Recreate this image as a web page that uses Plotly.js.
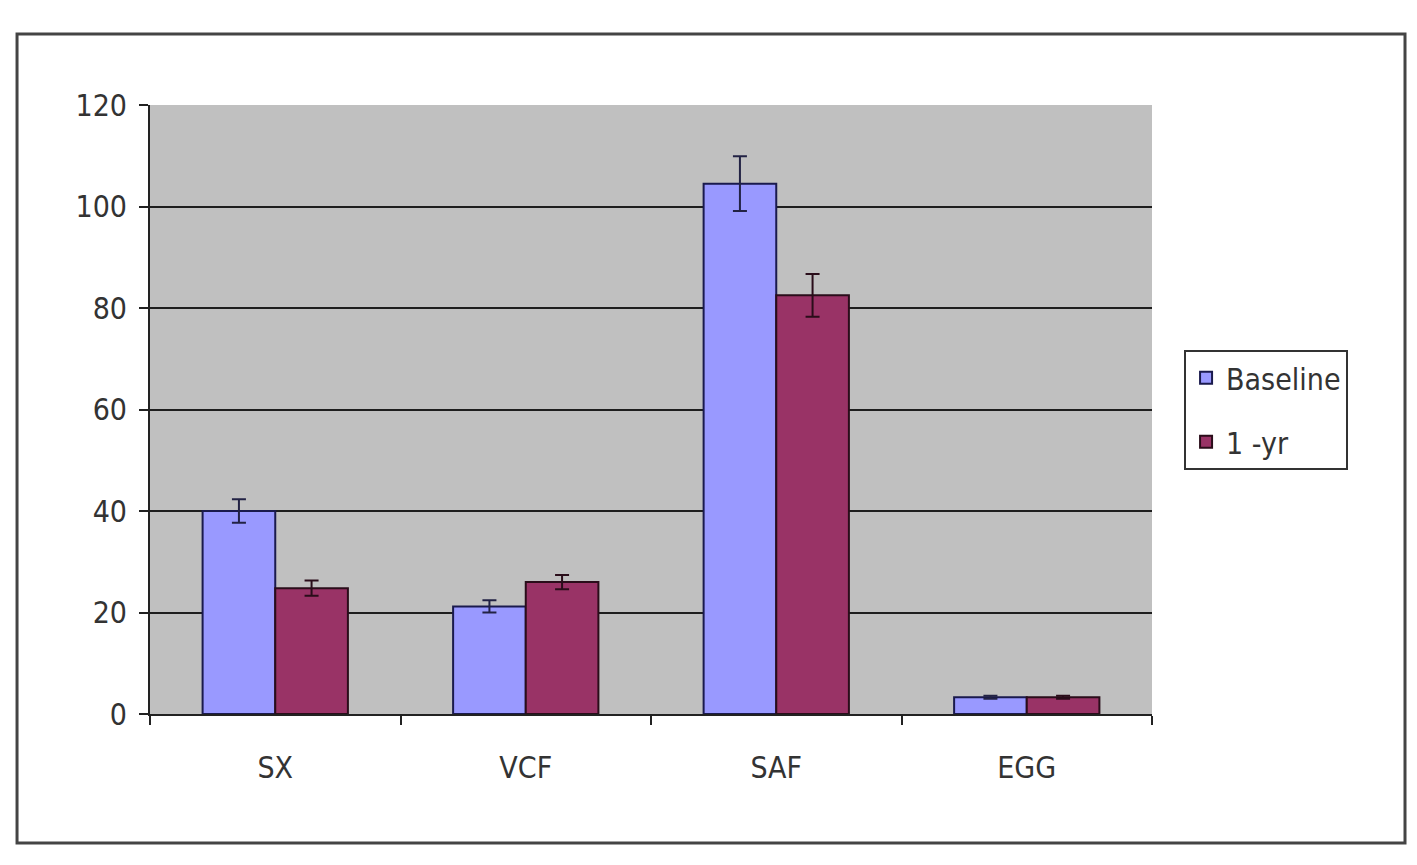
<!DOCTYPE html>
<html>
<head>
<meta charset="utf-8">
<script src="https://cdn.plot.ly/plotly-3.0.1.min.js"></script>
<style>html,body{margin:0;padding:0;background:#fff;}#chart{width:1417px;height:865px;}</style>
</head>
<body>
<div id="chart"></div>
<script>
const categories = ["SX", "VCF", "SAF", "EGG"];
const baselineValues = [40, 21.2, 104.5, 3.3];
const baselineErrors = [2.3, 1.2, 5.4, 0.3];
const oneYearValues = [24.8, 26, 82.5, 3.3];
const oneYearErrors = [1.5, 1.4, 4.2, 0.3];
const yTicks = [0, 20, 40, 60, 80, 100, 120];

const fontFam = "'DejaVu Sans Condensed', 'Liberation Sans', Arial, sans-serif";

const traces = [
  {
    type: "bar", name: "Baseline", x: categories, y: baselineValues, legendgroup: "a",
    marker: {color: "#9999ff", line: {color: "#1a1a4d", width: 2}},
    error_y: {type: "data", array: baselineErrors, visible: true, color: "#222244", thickness: 2, width: 7}
  },
  {
    type: "bar", name: "1 -yr", x: categories, y: oneYearValues, legendgroup: "b",
    marker: {color: "#993366", line: {color: "#2a0d1a", width: 2}},
    error_y: {type: "data", array: oneYearErrors, visible: true, color: "#2a0d1a", thickness: 2, width: 7}
  }
];

const layout = {
  width: 1417, height: 865,
  margin: {l: 150, r: 265, t: 105, b: 151},
  paper_bgcolor: "#ffffff",
  plot_bgcolor: "#c0c0c0",
  barmode: "group",
  bargap: 0.42,
  bargroupgap: 0,
  font: {family: fontFam, size: 30, color: "#333"},
  showlegend: true,
  legend: {
    x: 1.032, y: 0.598, xanchor: "left", yanchor: "top",
    bgcolor: "#ffffff", bordercolor: "#333", borderwidth: 2,
    font: {family: fontFam, size: 30, color: "#333"},
    tracegroupgap: 22, itemwidth: 30
  },
  xaxis: {
    type: "category",
    showline: true, linecolor: "#222", linewidth: 2,
    ticks: "outside", tickson: "boundaries", ticklen: 9, tickwidth: 2, tickcolor: "#222",
    ticklabelstandoff: 26,
    showgrid: false, zeroline: false,
    tickfont: {family: fontFam, size: 30, color: "#333"}
  },
  yaxis: {
    range: [0, 120], tickvals: yTicks, ticktext: yTicks.map(String),
    showline: true, linecolor: "#222", linewidth: 2,
    ticks: "outside", ticklen: 9, tickwidth: 2, tickcolor: "#222",
    ticklabelstandoff: 6,
    showgrid: true, gridcolor: "#1e1e1e", gridwidth: 2,
    zeroline: false,
    tickfont: {family: fontFam, size: 30, color: "#333"}
  },
  shapes: [
    {type: "rect", xref: "paper", yref: "paper", x0: -0.1327, x1: 1.2525, y0: -0.2118, y1: 1.1166,
     line: {color: "#444", width: 3}, fillcolor: "rgba(0,0,0,0)", layer: "below"}
  ]
};

Plotly.newPlot("chart", traces, layout, {displayModeBar: false, staticPlot: true});
</script>
</body>
</html>
